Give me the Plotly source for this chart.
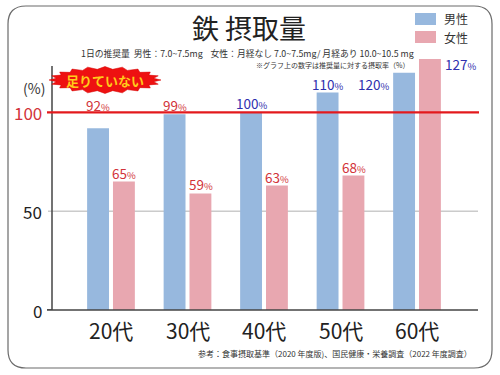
import math
import plotly.graph_objects as go

categories = ["20代", "30代", "40代", "50代", "60代"]
male = [92, 99, 100, 110, 120]
female = [65, 59, 63, 68, 127]
ytick_vals = [0, 50, 100]
ytick_text = ["0", "50", "100"]

W, H = 500, 375
L, R, T, B = 52, 22, 57, 65
YMAX = 128
XR = [-0.771, 4.797]

def px(x):  # pixel x -> paper
    return (x - L) / (W - L - R)

def py(y):  # pixel y -> paper
    return (H - B - y) / (H - T - B)

FONT = "Noto Sans CJK JP"
BLUE = "#97b8de"
PINK = "#e8a7b0"
RED_TXT = "#d2333a"
BLUE_TXT = "#2f2fae"
RED_LINE = "#e3191c"

fig = go.Figure()
fig.add_trace(go.Bar(x=categories, y=male, name="男性", marker_color=BLUE, marker_line_width=0))
fig.add_trace(go.Bar(x=categories, y=female, name="女性", marker_color=PINK, marker_line_width=0))

shapes = []
annotations = []

def ann(**kw):
    kw.setdefault("showarrow", False)
    kw.setdefault("borderpad", 0)
    annotations.append(kw)

# outer rounded border
x0, x1, y0, y1, r = 8, 492, 6, 368, 18
path = (f"M {px(x0+r)},{py(y0)} L {px(x1-r)},{py(y0)} Q {px(x1)},{py(y0)} {px(x1)},{py(y0+r)} "
        f"L {px(x1)},{py(y1-r)} Q {px(x1)},{py(y1)} {px(x1-r)},{py(y1)} "
        f"L {px(x0+r)},{py(y1)} Q {px(x0)},{py(y1)} {px(x0)},{py(y1-r)} "
        f"L {px(x0)},{py(y0+r)} Q {px(x0)},{py(y0)} {px(x0+r)},{py(y0)} Z")
shapes.append(dict(type="path", xref="paper", yref="paper", path=path,
                   line=dict(color="#6a6a6a", width=1.2), layer="below"))

# gridline at 50
shapes.append(dict(type="line", xref="paper", yref="y", x0=px(48), x1=px(478), y0=50, y1=50,
                   line=dict(color="#b0b0b0", width=1), layer="below"))
# tick at 0
shapes.append(dict(type="line", xref="paper", yref="y", x0=px(47), x1=px(52), y0=0, y1=0,
                   line=dict(color="#444", width=1.5)))
# vertical axis line
shapes.append(dict(type="line", xref="paper", yref="paper", x0=px(52), x1=px(52), y0=py(310), y1=py(66),
                   line=dict(color="#444", width=1.5)))
# horizontal axis line
shapes.append(dict(type="line", xref="paper", yref="paper", x0=px(47), x1=px(478), y0=py(310), y1=py(310),
                   line=dict(color="#444", width=1.5)))
# red 100 line
shapes.append(dict(type="line", xref="paper", yref="y", x0=px(47), x1=px(479), y0=100, y1=100,
                   line=dict(color=RED_LINE, width=2.2)))

# starburst badge
cx, cy, rx, ry = 105, 80, 56, 13.5
pts = []
n = 40
for i in range(n):
    a = 2 * math.pi * i / n
    outer = i % 2 == 0
    pts.append((cx + rx * (1.0 if outer else 0.88) * math.cos(a),
                cy + ry * (1.0 if outer else 0.8) * math.sin(a)))
bp = "M " + " L ".join(f"{px(x)},{py(y)}" for x, y in pts) + " Z"
shapes.append(dict(type="path", xref="paper", yref="paper", path=bp,
                   fillcolor="#ee1111", line=dict(color="#d40000", width=0.5)))
ann(xref="paper", yref="paper", x=px(cx), y=py(cy), text="<b>足りていない</b>",
    font=dict(family=FONT, size=13, color="#ffcc1a"), xanchor="center", yanchor="middle")

# legend
for i, (nm, col) in enumerate([("男性", BLUE), ("女性", PINK)]):
    ty = 13 + 18 * i
    shapes.append(dict(type="rect", xref="paper", yref="paper", x0=px(415), x1=px(436),
                       y0=py(ty), y1=py(ty + 12), fillcolor=col, line=dict(width=0)))
    ann(xref="paper", yref="paper", x=px(443), y=py(ty + 6), text=nm,
        xanchor="left", yanchor="middle", font=dict(family=FONT, size=12, color="#333"))

# title and subtitle
ann(xref="paper", yref="paper", x=px(249), y=py(27), text="鉄 摂取量",
    xanchor="center", yanchor="middle", font=dict(family=FONT, size=27, color="#222"))
ann(xref="paper", yref="paper", x=px(247), y=py(53),
    text="1日の推奨量  男性：7.0~7.5mg    女性：月経なし 7.0~7.5mg/ 月経あり 10.0~10.5 mg",
    xanchor="center", yanchor="middle", font=dict(family=FONT, size=8.8, color="#333"))
ann(xref="paper", yref="paper", x=px(410), y=py(64.5),
    text="※グラフ上の数字は推奨量に対する摂取率（%）",
    xanchor="right", yanchor="middle", font=dict(family=FONT, size=7, color="#333"))
ann(xref="paper", yref="paper", x=px(473), y=py(353),
    text="参考：食事摂取基準（2020 年度版)、国民健康・栄養調査（2022 年度調査）",
    xanchor="right", yanchor="middle", font=dict(family=FONT, size=8, color="#333"))
ann(xref="paper", yref="paper", x=px(34), y=py(88), text="(%)",
    xanchor="center", yanchor="middle", font=dict(family=FONT, size=14, color="#333"))

# y tick labels
for v, t in zip(ytick_vals, ytick_text):
    ann(xref="paper", yref="y", x=px(43), y=v, text=t, xanchor="right", yanchor="middle",
        font=dict(family=FONT, size=17, color=RED_TXT if v == 100 else "#222"))

# x tick labels
for c in categories:
    ann(xref="x", yref="paper", x=c, y=py(330), text=c, xanchor="center", yanchor="middle",
        font=dict(family=FONT, size=21, color="#222"))

def lab(v):
    return f"{v}<span style='font-size:9.5px'>%</span>"

last = len(categories) - 1
for i, c in enumerate(categories):
    for j, vals in enumerate([male, female]):
        v = vals[i]
        col = BLUE_TXT if v >= 100 else RED_TXT
        xs = -13 if j == 0 else 13
        yv = v + 4.5
        if j == 0 and v < 99:
            yv = 103.5
        if i == last:
            xs = xs - 31 if j == 0 else xs + 30
            yv = v - 5.5 if j == 0 else v - 2.3
        ann(xref="x", yref="y", x=c, y=yv, xshift=xs, text=lab(v),
            xanchor="center", yanchor="middle", font=dict(family=FONT, size=13.5, color=col))

fig.update_layout(
    width=W, height=H,
    margin=dict(l=L, r=R, t=T, b=B),
    paper_bgcolor="white", plot_bgcolor="white",
    barmode="group", bargap=0.324, bargroupgap=0.154,
    showlegend=False,
    xaxis=dict(range=XR, showticklabels=False, showline=False, showgrid=False, zeroline=False, ticks=""),
    yaxis=dict(range=[0, YMAX], showticklabels=False, showline=False, showgrid=False, zeroline=False, ticks=""),
    shapes=shapes, annotations=annotations,
    font=dict(family=FONT),
)

fig.write_html("out.html", config={"displayModeBar": False},
               post_script="document.body.style.margin='0';document.body.style.padding='0';")
